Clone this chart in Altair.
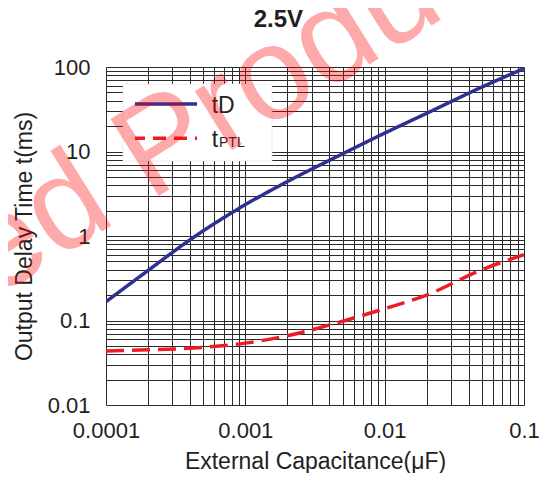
import altair as alt
import pandas as pd

# ---- data ----
cap_uF = [1e-4, 2e-4, 4e-4, 1e-3, 2e-3, 5e-3, 1e-2, 2e-2, 5e-2, 1e-1]
t_d = [0.167, 0.39, 0.90, 2.35, 4.4, 9.4, 16.5, 28.3, 58, 96]
t_ptl = [0.0437, 0.045, 0.047, 0.054, 0.066, 0.098, 0.138, 0.20, 0.40, 0.60]
series_names = ["tD", "tPTL"]
x_decades = [0.0001, 0.001, 0.01, 0.1]
y_decades = [0.01, 0.1, 1, 10, 100]

x_ticks = [float(f"{m}e{e}") for e in (-4, -3, -2) for m in range(1, 10)] + [0.1]
y_ticks = [float(f"{m}e{e}") for e in (-2, -1, 0, 1) for m in range(1, 10)] + [100.0]

df = pd.DataFrame({
    "cap": cap_uF * 2,
    "t": t_d + t_ptl,
    "series": [series_names[0]] * len(cap_uF) + [series_names[1]] * len(cap_uF),
})

FONT = "Liberation Sans"
INK = "#231F20"
GRID = "#2b2b2b"

def label_expr(decs):
    arr = "[" + ",".join(repr(d) for d in decs) + "]"
    return f"indexof({arr}, datum.value) >= 0 ? '' + datum.value : ''"

x_enc = alt.X(
    "cap:Q",
    scale=alt.Scale(type="log", domain=[1e-4, 0.1], nice=False),
    axis=alt.Axis(
        values=x_ticks, labelExpr=label_expr(x_decades), grid=True, gridColor=GRID,
        gridWidth=1, gridOpacity=1, domain=False, ticks=False, tickSize=0,
        labelFont=FONT, labelFontSize=22, labelColor=INK, labelPadding=15,
        labelFlush=False, labelOverlap=False, labelBound=False,
        title="External Capacitance(\u03bcF)", titleFont=FONT, titleFontSize=23,
        titleFontWeight="normal", titleColor=INK, titleBaseline="alphabetic",
        titleAlign="center", titleY=63.5,
    ),
)
y_enc = alt.Y(
    "t:Q",
    scale=alt.Scale(type="log", domain=[0.01, 100], nice=False),
    axis=alt.Axis(
        values=y_ticks, labelExpr=label_expr(y_decades), grid=True, gridColor=GRID,
        gridWidth=1, gridOpacity=1, domain=False, ticks=False, tickSize=0,
        labelFont=FONT, labelFontSize=22, labelColor=INK, labelPadding=16,
        labelFlush=False, labelOverlap=False, labelBound=False,
        title="Output Delay Time t(ms)", titleFont=FONT, titleFontSize=23,
        titleFontWeight="normal", titleColor=INK, titleAngle=270,
        titleBaseline="alphabetic", titleAlign="center", titleX=-75, titleY=169,
    ),
)

lines = alt.Chart(df).mark_line(strokeWidth=3.5, clip=True, interpolate="monotone").encode(
    x=x_enc,
    y=y_enc,
    color=alt.Color("series:N", scale=alt.Scale(domain=series_names, range=["#2E3192", "#ED1C24"]), legend=None),
    strokeDash=alt.StrokeDash("series:N", scale=alt.Scale(domain=series_names, range=[[1, 0], [18, 8]]), legend=None),
)

one = alt.Data(values=[{}])
legend_box = alt.Chart(one).mark_rect(fill="white", stroke="#e2e2e2", strokeWidth=0.6).encode(
    x=alt.value(17), x2=alt.value(166), y=alt.value(17), y2=alt.value(94)
)
leg_td = alt.Chart(one).mark_rule(color="#2E3192", strokeWidth=3.5).encode(
    x=alt.value(29), x2=alt.value(91), y=alt.value(37)
)
leg_ptl = alt.Chart(one).mark_rule(color="#ED1C24", strokeWidth=3.5, strokeDash=[13, 8], strokeDashOffset=3).encode(
    x=alt.value(29), x2=alt.value(91), y=alt.value(71.3)
)
txt_td = alt.Chart(one).mark_text(text="tD", font=FONT, fontSize=23, color=INK, align="left", baseline="alphabetic").encode(
    x=alt.value(105.7), y=alt.value(45.7)
)
txt_t = alt.Chart(one).mark_text(text="t", font=FONT, fontSize=23, color=INK, align="left", baseline="alphabetic").encode(
    x=alt.value(105.7), y=alt.value(79.7)
)
txt_ptl = alt.Chart(one).mark_text(text="PTL", font=FONT, fontSize=14, color=INK, align="left", baseline="alphabetic").encode(
    x=alt.value(113), y=alt.value(79.7)
)
title_txt = alt.Chart(one).mark_text(text="2.5V", font=FONT, fontSize=24, fontWeight="bold", color=INK,
                                     align="center", baseline="alphabetic").encode(
    x=alt.value(172.4), y=alt.value(-40.5)
)
watermark = alt.Chart(one).mark_text(
    text="ed Product", font=FONT, fontSize=132, color="#FF0000", opacity=0.33,
    angle=328, align="left", baseline="alphabetic"
).encode(x=alt.value(-112), y=alt.value(232))

chart = alt.layer(lines, legend_box, leg_td, leg_ptl, txt_td, txt_t, txt_ptl, title_txt, watermark).properties(
    width=418,
    height=338,
    autosize=alt.AutoSizeParams(type="none"),
    padding={"left": 98, "top": 59, "right": 19, "bottom": 68},
).configure_view(stroke=INK, strokeWidth=1.5).configure(background="white")

chart.save("out.html", embed_options={"renderer": "svg", "actions": False})
